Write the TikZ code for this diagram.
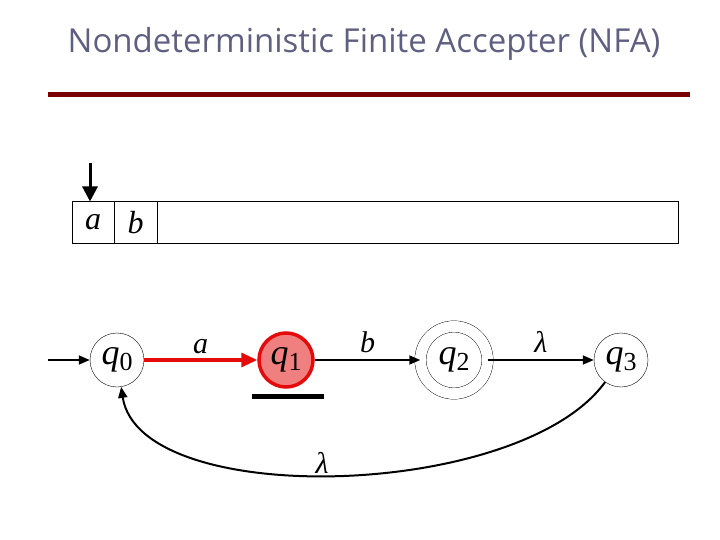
\documentclass[tikz,border=0pt]{standalone}
\usepackage{fontspec}
\setmainfont{Liberation Serif}
\newfontfamily\titrefont{Open Sans}
\usetikzlibrary{arrows.meta}
\definecolor{titre}{RGB}{95,95,130}
\definecolor{regle}{RGB}{120,0,0}
\definecolor{rouge}{RGB}{230,10,10}
\definecolor{rose}{RGB}{240,128,128}
% Nom d'etat : q avec indice
\newcommand{\qetat}[1]{\textit{q}\raisebox{-6pt}{\fontsize{26}{26}\selectfont #1}}
\begin{document}
\begin{tikzpicture}[x=1pt,y=-1pt]
% Styles
\tikzstyle{fleche}=[-{Triangle[length=11pt,width=9pt]},line width=1.6pt]
\tikzstyle{flecherouge}=[-{Triangle[length=16pt,width=14pt]},line width=3.2pt,draw=rouge]
\tikzstyle{etat}=[circle,draw,thin,minimum size=54pt,inner sep=0pt,font=\fontsize{36}{36}\selectfont]
\tikzstyle{actif}=[etat,draw=rouge,line width=3.5pt,fill=rose]
\tikzstyle{final}=[etat,double,double distance=11pt,minimum size=67pt]
\tikzstyle{case}=[draw,line width=1pt,minimum height=41pt,inner sep=0pt,font=\fontsize{32}{32}\selectfont\itshape]
\tikzstyle{etiquette}=[font=\fontsize{30}{30}\selectfont\itshape]
\useasboundingbox (0,0) rectangle (720,540);
% Titre
\node[text=titre,font=\titrefont\fontsize{33}{33}\selectfont] (titre) at (364,44) {Nondeterministic Finite Accepter (NFA)};
\draw[regle,line width=5pt] (48,95) -- (690,95);
% Ruban
\node[case,minimum width=42pt] (casea) at (93,222.5) {a};
\node[case,minimum width=43pt] (caseb) at (135.5,222.5) {b};
\node[case,minimum width=521pt] (reste) at (417.5,222.5) {};
\coordinate (tete) at (90,163);
\draw[-{Triangle[length=15pt,width=15pt]},line width=3pt] (tete) -- (tete |- casea.north);
% Etats
\node[etat] (q0) at (117,360) {\qetat{0}};
\node[actif] (q1) at (286,360) {\qetat{1}};
\node[final] (q2) at (454,360) {\qetat{2}};
\node[etat] (q3) at (621,360) {\qetat{3}};
\coordinate (debut) at (48,360);
\draw[line width=5pt] (252,396) -- (324,396);
% Arcs
\draw[fleche] (debut) -- (q0);
\draw[flecherouge] (q0) -- (q1) node[etiquette,midway,above=1pt,text=black] {a};
\draw[fleche] (q1) -- (q2) node[etiquette,midway,above=3pt] {b};
\draw[fleche] (q2) -- (q3) node[etiquette,midway,above=3pt] {λ};
\draw[fleche,line width=2pt] (q3) .. controls (520,500) and (140,510) .. (q0);
\node[etiquette] (lambda) at (322,463) {λ};
\end{tikzpicture}
\end{document}
